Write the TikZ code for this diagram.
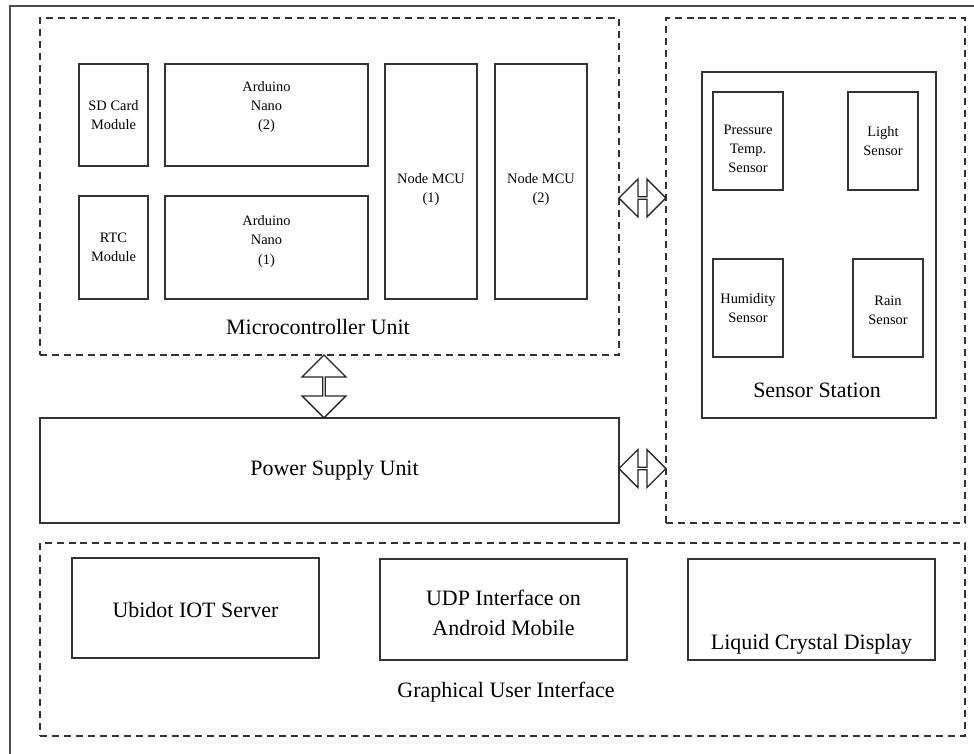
\documentclass[tikz,border=0pt]{standalone}
\usepackage{fontspec}
\setmainfont{Liberation Serif}
\usepackage{tikz}
\usetikzlibrary{calc,shapes.arrows}

\newcommand{\smalltxt}{\fontsize{8.2}{11}\selectfont}
\newcommand{\bigtxt}{\fontsize{12.5}{17}\selectfont}

\tikzset{
    box/.style={draw=black!80, line width=0.8pt, inner sep=0pt},
    frame/.style={draw=black!80, line width=0.8pt, dash pattern=on 4pt off 2.8pt,
        inner sep=0pt},
    dblarrow/.style={draw=black!85, line width=0.8pt, fill=white, double arrow,
        double arrow tip angle=90, inner sep=0pt},
    small/.style={align=center, font=\smalltxt},
    big/.style={align=center, font=\bigtxt},
}

\begin{document}
\begin{tikzpicture}[x=0.02cm, y=-0.02cm]

    \useasboundingbox (0,0) rectangle (974,754);
    \draw[black!70, line width=1pt] (974,6) -- (10,6) -- (10,754);

        % microcontroller unit
        \begin{scope}
            \node[frame, minimum width=11.58cm, minimum height=6.74cm]
                (MCUunit) at (329.5,186.5) {};
            \node[big] at (318,327) {Microcontroller Unit};

            \node[box, minimum width=1.38cm, minimum height=2.04cm]
                (SDcard) at (113.5,115) {};
            \node[small] at (SDcard) {SD Card\\Module};

            \node[box, minimum width=4.06cm, minimum height=2.04cm]
                (Nano2) at (266.5,115) {};
            \node[small] at ($(Nano2)+(0,-8)$) {Arduino\\Nano\\(2)};

            \node[box, minimum width=1.38cm, minimum height=2.06cm]
                (RTC) at (113.5,247.5) {};
            \node[small] at (RTC) {RTC\\Module};

            \node[box, minimum width=4.06cm, minimum height=2.06cm]
                (Nano1) at (266.5,247.5) {};
            \node[small] at ($(Nano1)+(0,-6)$) {Arduino\\Nano\\(1)};

            \node[box, minimum width=1.84cm, minimum height=4.7cm]
                (NodeMCU1) at (431,181.5) {};
            \node[small] at ($(NodeMCU1)+(0,8)$) {Node MCU\\(1)};

            \node[box, minimum width=1.84cm, minimum height=4.7cm]
                (NodeMCU2) at (541,181.5) {};
            \node[small] at ($(NodeMCU2)+(0,8)$) {Node MCU\\(2)};
        \end{scope}

        % sensor station
        \begin{scope}
            \node[frame, minimum width=5.98cm, minimum height=10.1cm]
                (SensorFrame) at (815.5,270.5) {};

            \node[box, minimum width=4.68cm, minimum height=6.92cm]
                (SensorStation) at (819,245) {};
            \node[big] at (817,390) {Sensor Station};

            \node[box, minimum width=1.4cm, minimum height=1.96cm]
                (PressTemp) at (748,141) {};
            \node[small] at ($(PressTemp)+(0,8)$) {Pressure\\Temp.\\Sensor};

            \node[box, minimum width=1.4cm, minimum height=1.96cm]
                (Light) at (883,141) {};
            \node[small] at (Light) {Light\\Sensor};

            \node[box, minimum width=1.4cm, minimum height=1.96cm]
                (Humidity) at (748,308) {};
            \node[small] at (Humidity) {Humidity\\Sensor};

            \node[box, minimum width=1.4cm, minimum height=1.96cm]
                (Rain) at (888,308) {};
            \node[small] at ($(Rain)+(0,2)$) {Rain\\Sensor};
        \end{scope}

        % power supply
        \node[box, minimum width=11.58cm, minimum height=2.1cm]
            (Power) at (329.5,470.5) {};
        \node[big] at ($(Power)+(5,0)$) {Power Supply Unit};

        % graphical user interface
        \begin{scope}
            \node[frame, minimum width=18.5cm, minimum height=3.86cm]
                (GUI) at (502.5,639.5) {};
            \node[big] at (506,692) {Graphical User Interface};

            \node[box, minimum width=4.94cm, minimum height=2cm]
                (Ubidot) at (195.5,608) {};
            \node[big] at ($(Ubidot)+(0,2)$) {Ubidot IOT Server};

            \node[box, minimum width=4.94cm, minimum height=2.02cm]
                (UDP) at (503.5,609.5) {};
            \node[big] at ($(UDP)+(0,3)$) {UDP Interface on\\Android Mobile};

            \node[box, minimum width=4.94cm, minimum height=2.02cm]
                (LCD) at (811.5,609.5) {};
            \node[big] at ($(LCD)+(0,35)$) {Liquid Crystal Display};
        \end{scope}

        % links
        \node[dblarrow, minimum height=0.94cm, minimum width=0.76cm,
            double arrow head extend=0.2cm]
            (LinkSensor) at ($(MCUunit.east)!0.5!(SensorFrame.west |- MCUunit.east)+(0,11.5)$) {};

        \node[dblarrow, minimum height=0.94cm, minimum width=0.76cm,
            double arrow head extend=0.2cm]
            (LinkPower) at ($(Power.east)!0.5!(SensorFrame.west |- Power.east)+(0,-2)$) {};

        \node[dblarrow, rotate=90, minimum height=1.26cm, minimum width=0.88cm,
            double arrow head extend=0.23cm]
            (LinkMCU) at ($(MCUunit.south)!0.5!(Power.north)+(-5.5,0)$) {};

    \end{tikzpicture}
\end{document}
